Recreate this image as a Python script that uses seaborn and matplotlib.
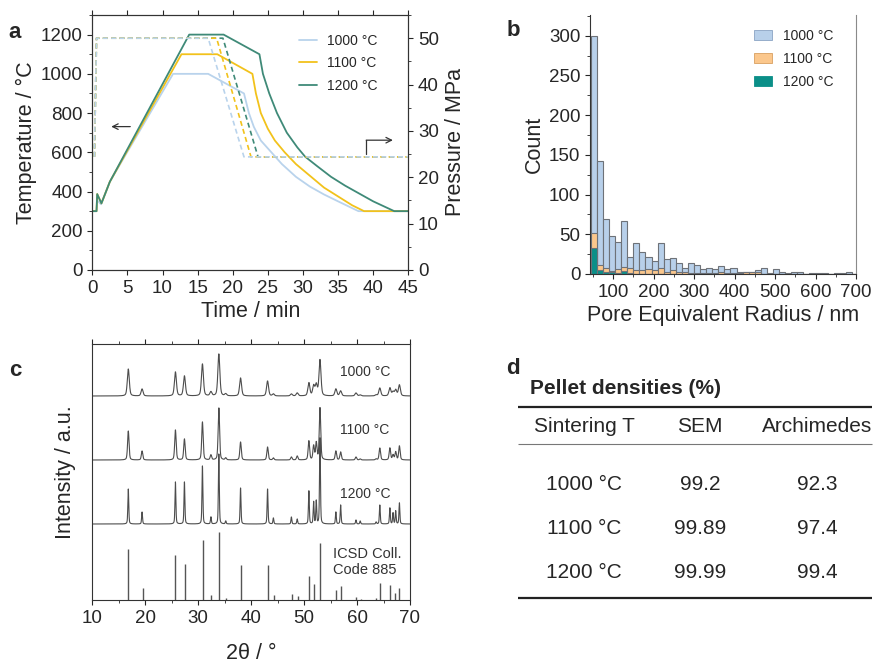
import numpy as np
import pandas as pd
import seaborn as sns
from matplotlib import pyplot as plt
from matplotlib.ticker import MultipleLocator
from matplotlib.patches import Patch

sns.set_style("ticks")
plt.rcParams['font.family'] = ['Liberation Sans', 'DejaVu Sans']
plt.rcParams['axes.unicode_minus'] = False
plt.rcParams['axes.edgecolor'] = '#333333'
plt.rcParams['xtick.major.size'] = 3.5
plt.rcParams['ytick.major.size'] = 3.5
plt.rcParams['xtick.minor.size'] = 2
plt.rcParams['ytick.minor.size'] = 2

TICK, LAB = 13.5, 15.5

# ---------- a: temperature / pressure profiles
c1000, c1100, c1200 = '#b9d3ec', '#f2c21b', '#3f8a78'

t_1000 = [0, 0.6, 0.7, 1.25, 2.5, 11.5, 16.5, 21.6, 22.3, 23.0, 24.0, 25.5, 27.0, 29.0, 31.0, 33.0, 35.0, 37.9, 45]
T_1000 = [300, 300, 355, 335, 450, 1000, 1000, 900, 800, 730, 660, 600, 540, 475, 425, 385, 350, 300, 300]
t_1100 = [0, 0.6, 0.7, 1.3, 2.5, 12.7, 17.8, 22.8, 23.3, 24.0, 25.0, 26.0, 27.4, 29.0, 31.0, 33.0, 35.0, 37.0, 38.7, 45]
T_1100 = [300, 300, 387, 340, 450, 1100, 1100, 1000, 900, 800, 720, 660, 600, 540, 480, 420, 375, 330, 300, 300]
t_1200 = [0, 0.6, 0.7, 1.3, 2.5, 13.8, 18.7, 23.8, 24.3, 25.2, 26.3, 27.7, 29.2, 30.3, 32.0, 34.0, 36.0, 38.0, 40.0, 43.0, 45]
T_1200 = [300, 300, 387, 340, 450, 1200, 1200, 1100, 1000, 900, 800, 700, 625, 578, 530, 475, 430, 390, 350, 300, 300]

tp_1000 = [0.3, 0.6, 16.5, 21.6, 45]
tp_1100 = [0.3, 0.6, 17.7, 22.6, 45]
tp_1200 = [0.3, 0.6, 18.6, 23.6, 45]
P_prog = [24.4, 50, 50, 24.4, 24.4]

# ---------- b: pore size histogram (15 nm bins from 45 nm)
bin_start, bin_width = 45, 15
n_1000 = [300, 142, 69, 48, 40, 67, 22, 39, 28, 21, 16, 39, 19, 20, 14, 8, 14, 11, 6, 7, 6, 10,
          6, 7, 2, 3, 3, 5, 8, 1, 6, 2, 1, 2, 2, 0, 1, 1, 1, 0, 1, 1, 2, 0]
n_1100 = [52, 11, 8, 4, 6, 9, 7, 5, 5, 6, 5, 8, 2, 5, 3, 2, 1, 1, 1, 1, 1, 2,
          1, 1, 1, 2, 3, 2, 0, 0, 0, 0, 0, 0, 0, 0, 0, 0, 0, 0, 0, 0, 0, 0]
n_1200 = [33, 5, 2, 3, 1, 4, 1, 0, 0, 0, 0, 0, 0, 0, 0, 0, 0, 0, 0, 0, 0, 0,
          0, 0, 0, 0, 0, 0, 0, 0, 0, 0, 0, 0, 0, 0, 0, 0, 0, 0, 0, 0, 0, 0]

# ---------- c: XRD peaks (2theta, height)
pk_pos = [16.8, 19.4, 25.7, 27.4, 30.8, 32.4, 33.9, 35.2, 38.0, 43.1, 44.2, 47.6, 48.7, 50.9,
          51.8, 52.3, 53.0, 56.0, 56.9, 59.8, 60.6, 63.6, 64.3, 66.2, 66.8, 67.3, 68.0]
pk_1000 = [27, 7, 24, 20, 32, 4, 42, 2, 18, 15, 2, 2, 3, 13, 10, 11, 36, 7, 5, 3, 1, 1, 8, 8, 4, 6, 11]
pk_1100 = [29, 9, 30, 21, 38, 5, 52, 2, 18, 13, 2, 3, 4, 19, 14, 17, 52, 9, 8, 3, 1, 1, 12, 12, 5, 8, 14]
pk_1200 = [35, 12, 42, 42, 58, 7, 70, 3, 36, 35, 6, 7, 5, 33, 22, 23, 86, 12, 19, 4, 3, 2, 19, 16, 11, 13, 21]
hw_1000, hw_1100, hw_1200 = 0.22, 0.16, 0.1
base_1000, base_1100, base_1200 = 204, 140, 76

icsd_pos = [16.8, 19.5, 25.7, 27.5, 30.9, 32.5, 34.0, 35.3, 38.1, 43.1, 44.3, 47.7, 48.8, 50.9,
            51.9, 53.0, 56.0, 57.0, 59.8, 60.7, 63.6, 64.4, 66.2, 67.2, 68.0]
icsd_h = [51, 12, 45, 36, 60, 5, 68, 2, 35, 35, 5, 6, 4, 24, 16, 57, 10, 14, 3, 1.5, 2, 17, 15, 7, 12]

# ---------- d: densities
sinter_T = ['1000 °C', '1100 °C', '1200 °C']
dens_sem = ['99.2', '99.89', '99.99']
dens_arch = ['92.3', '97.4', '99.4']

W, H = 875, 663
fig = plt.figure(figsize=(W / 100, H / 100), dpi=100)


def box(x0, y0, x1, y1):
    return [x0 / W, 1 - y1 / H, (x1 - x0) / W, (y1 - y0) / H]


# ===== panel a
ax1 = fig.add_axes(box(92.3, 15, 408.3, 270))
for t, T, c, lab in [(t_1000, T_1000, c1000, '1000 °C'), (t_1100, T_1100, c1100, '1100 °C'),
                     (t_1200, T_1200, c1200, '1200 °C')]:
    sns.lineplot(x=t, y=T, ax=ax1, color=c, lw=1.3, label=lab, sort=False, estimator=None)
ax1.set_xlim(0, 45)
ax1.set_ylim(0, 1300)
ax1.xaxis.set_major_locator(MultipleLocator(5))
ax1.yaxis.set_major_locator(MultipleLocator(200))
ax1.yaxis.set_minor_locator(MultipleLocator(100))
ax1.tick_params(axis='x', top=True, direction='out', labelsize=TICK)
ax1.tick_params(axis='y', which='both', direction='out', labelsize=TICK)
ax1.set_xlabel('Time / min', fontsize=LAB, labelpad=3)
ax1.set_ylabel('Temperature / °C', fontsize=LAB, labelpad=3)
ax1.legend(loc='upper left', bbox_to_anchor=(0.615, 0.975), frameon=False, fontsize=10,
           handlelength=1.3, handletextpad=0.7, labelspacing=0.6)

ax2 = ax1.twinx()
for tp, c in [(tp_1200, c1200), (tp_1100, c1100), (tp_1000, c1000)]:
    sns.lineplot(x=tp, y=P_prog, ax=ax2, color=c, lw=1.2, linestyle=(0, (3, 2)),
                 sort=False, estimator=None, legend=False)
ax2.set_ylim(0, 55)
ax2.yaxis.set_major_locator(MultipleLocator(10))
ax2.yaxis.set_minor_locator(MultipleLocator(5))
ax2.tick_params(axis='y', which='both', direction='out', labelsize=TICK)
ax2.set_ylabel('Pressure / MPa', fontsize=LAB, labelpad=4)

ax1.annotate('', xy=(2.3, 731), xytext=(5.8, 731),
             arrowprops=dict(arrowstyle='->', color='#333333', lw=0.9))
ax2.plot([39.0, 39.0], [25.1, 28.0], color='#333333', lw=0.9)
ax2.annotate('', xy=(43.2, 28.0), xytext=(39.0, 28.0),
             arrowprops=dict(arrowstyle='->', color='#333333', lw=0.9, shrinkA=0))

# ===== panel b
ax3 = fig.add_axes(box(590, 15, 856, 274))
edges = bin_start + bin_width * np.arange(len(n_1000) + 1)
pores = pd.DataFrame({'radius': edges[:-1] + bin_width / 2,
                      'n1000': n_1000, 'n1100': n_1100, 'n1200': n_1200})
for col, c in [('n1000', '#b8d0ea'), ('n1100', '#fbc78c'), ('n1200', '#0b8f88')]:
    sns.histplot(data=pores, x='radius', weights=col, bins=list(edges), ax=ax3, color=c,
                 alpha=1, edgecolor='#6e7278', linewidth=0.8)
ax3.set_xlim(43, 700)
ax3.set_ylim(0, 326)
ax3.xaxis.set_major_locator(MultipleLocator(100))
ax3.xaxis.set_minor_locator(MultipleLocator(50))
ax3.yaxis.set_major_locator(MultipleLocator(50))
ax3.yaxis.set_minor_locator(MultipleLocator(25))
ax3.tick_params(which='both', direction='out', labelsize=TICK)
ax3.spines['top'].set_visible(False)
ax3.spines['right'].set_color('#8a8a8a')
ax3.set_xlabel('Pore Equivalent Radius / nm', fontsize=LAB, labelpad=3)
ax3.set_ylabel('Count', fontsize=LAB, labelpad=3)
handles = [Patch(facecolor=c, edgecolor=e, lw=0.6) for c, e in
           [('#b8d0ea', '#8aa4c4'), ('#fbc78c', '#d9a060'), ('#0b8f88', '#0b8f88')]]
ax3.legend(handles, ['1000 °C', '1100 °C', '1200 °C'], loc='upper left',
           bbox_to_anchor=(0.57, 0.995), frameon=False, fontsize=10,
           handlelength=1.3, handleheight=0.7, labelspacing=0.65)

# ===== panel c
ax4 = fig.add_axes(box(92.3, 344, 410, 600))
tt = np.linspace(10, 70, 3001)


def pattern(base, heights, hw):
    y = np.full_like(tt, base, dtype=float)
    for p, h in zip(pk_pos, heights):
        u = (tt - p) / hw
        y += h * (0.4 / (1 + u ** 2) + 0.6 * np.exp(-np.log(2) * u ** 2))
    return y


for base, hts, hw in [(base_1000, pk_1000, hw_1000), (base_1100, pk_1100, hw_1100),
                      (base_1200, pk_1200, hw_1200)]:
    sns.lineplot(x=tt, y=pattern(base, hts, hw), ax=ax4, color='#4d4d4d', lw=0.8,
                 sort=False, estimator=None)
ax4.vlines(icsd_pos, 0, icsd_h, color='#555555', lw=1.0)
ax4.set_xlim(10, 70)
ax4.set_ylim(0, 256)
ax4.set_yticks([])
ax4.xaxis.set_major_locator(MultipleLocator(10))
ax4.xaxis.set_minor_locator(MultipleLocator(5))
ax4.tick_params(axis='x', which='both', top=True, direction='out', labelsize=TICK)
ax4.set_xlabel('2θ / °', fontsize=LAB, labelpad=12)
ax4.set_ylabel('Intensity / a.u.', fontsize=LAB, labelpad=12)
for y, s in [(228, '1000 °C'), (170, '1100 °C'), (106, '1200 °C')]:
    ax4.text(56.7, y, s, fontsize=10, color='#333333', va='center')
ax4.text(55.5, 38, 'ICSD Coll.\nCode 885', fontsize=10.5, color='#333333', va='center',
         linespacing=1.2)

# ===== panel d
ax5 = fig.add_axes(box(480, 350, 875, 620))
ax5.set_xlim(480, 875)
ax5.set_ylim(620, 350)
ax5.axis('off')
ax5.text(530, 389, 'Pellet densities (%)', fontsize=15, fontweight='bold', va='center')
ax5.hlines([406.7, 598], 518, 872, color='#222222', lw=1.6)
ax5.hlines([444], 518, 872, color='#777777', lw=0.8)
col_x = [584, 700, 817]
for x, s in zip(col_x, ['Sintering T', 'SEM', 'Archimedes']):
    ax5.text(x, 427, s, fontsize=15, ha='center', va='center')
for i, y in enumerate([484, 528, 573]):
    for x, s in zip(col_x, [sinter_T[i], dens_sem[i], dens_arch[i]]):
        ax5.text(x, y, s, fontsize=15, ha='center', va='center')

# panel letters
for x, y, s in [(15, 33, 'a'), (513, 31, 'b'), (15, 370, 'c'), (513, 368, 'd')]:
    fig.text(x / W, 1 - y / H, s, fontsize=16, fontweight='bold', ha='center', va='center')

fig.savefig('out.png', dpi=100, facecolor='white')
